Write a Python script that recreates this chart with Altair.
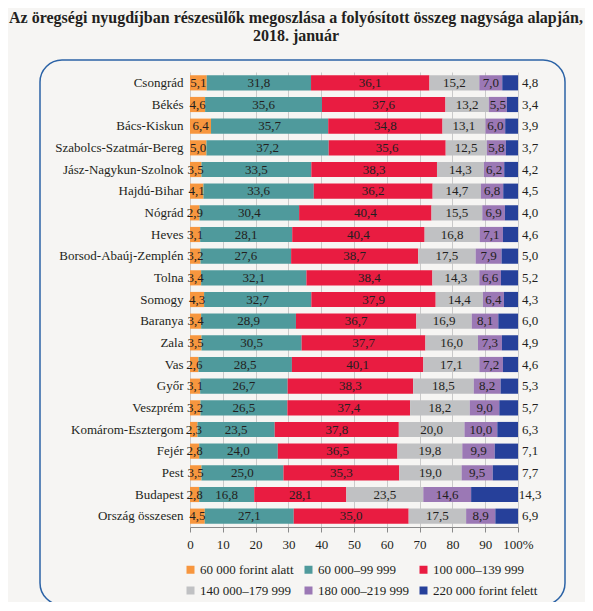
import altair as alt
import pandas as pd

regions = ["Csongrád", "Békés", "Bács-Kiskun", "Szabolcs-Szatmár-Bereg", "Jász-Nagykun-Szolnok",
           "Hajdú-Bihar", "Nógrád", "Heves", "Borsod-Abaúj-Zemplén", "Tolna", "Somogy", "Baranya",
           "Zala", "Vas", "Győr", "Veszprém", "Komárom-Esztergom", "Fejér", "Pest", "Budapest",
           "Ország összesen"]

categories = ["60 000 forint alatt", "60 000–99 999", "100 000–139 999",
              "140 000–179 999", "180 000–219 999", "220 000 forint felett"]
colors = ["#f7963e", "#4f9a9c", "#e91c41", "#c0c1c3", "#9b78b5", "#26409a"]

c1 = [5.1, 4.6, 6.4, 5.0, 3.5, 4.1, 2.9, 3.1, 3.2, 3.4, 4.3, 3.4, 3.5, 2.6, 3.1, 3.2, 2.3, 2.8, 3.5, 2.8, 4.5]
c2 = [31.8, 35.6, 35.7, 37.2, 33.5, 33.6, 30.4, 28.1, 27.6, 32.1, 32.7, 28.9, 30.5, 28.5, 26.7, 26.5, 23.5, 24.0, 25.0, 16.8, 27.1]
c3 = [36.1, 37.6, 34.8, 35.6, 38.3, 36.2, 40.4, 40.4, 38.7, 38.4, 37.9, 36.7, 37.7, 40.1, 38.3, 37.4, 37.8, 36.5, 35.3, 28.1, 35.0]
c4 = [15.2, 13.2, 13.1, 12.5, 14.3, 14.7, 15.5, 16.8, 17.5, 14.3, 14.4, 16.9, 16.0, 17.1, 18.5, 18.2, 20.0, 19.8, 19.0, 23.5, 17.5]
c5 = [7.0, 5.5, 6.0, 5.8, 6.2, 6.8, 6.9, 7.1, 7.9, 6.6, 6.4, 8.1, 7.3, 7.2, 8.2, 9.0, 10.0, 9.9, 9.5, 14.6, 8.9]
c6 = [4.8, 3.4, 3.9, 3.7, 4.2, 4.5, 4.0, 4.6, 5.0, 5.2, 4.3, 6.0, 4.9, 4.6, 5.3, 5.7, 6.3, 7.1, 7.7, 14.3, 6.9]
tick_values = [0, 10, 20, 30, 40, 50, 60, 70, 80, 90, 100]

series = [c1, c2, c3, c4, c5, c6]
rows = []
for ci, (cat, vals) in enumerate(zip(categories, series)):
    for r, v in zip(regions, vals):
        rows.append({"region": r, "cat": cat, "order": ci, "value": v,
                     "label": f"{v:.1f}".replace(".", ",")})
df = pd.DataFrame(rows)

FONT = "Liberation Serif, DejaVu Serif, serif"
TXT = "#231f20"
W, H = 328, 455

base = alt.Chart(df).transform_stack(
    stack="value", groupby=["region"], sort=[alt.SortField("order", order="ascending")],
    as_=["x0", "x1"], offset="normalize"
).transform_calculate(
    x0p="datum.x0 * 100", x1p="datum.x1 * 100", mid="(datum.x0 + datum.x1) * 50"
)

yscale = alt.Scale(paddingInner=0.3, paddingOuter=0.15)
yaxis = alt.Axis(domain=False, ticks=False, grid=False, labelFont=FONT,
                 labelFontSize=13, labelColor=TXT, labelPadding=7)
xscale = alt.Scale(domain=[0, 100], nice=False)
xaxis = alt.Axis(values=tick_values,
                 labelExpr="datum.value >= 100 ? '100%' : datum.label",
                 labelOverlap=False, labelFlush=False,
                 grid=True, gridColor="#cacaca", gridWidth=1,
                 domainColor="#8a8a8a", tickColor="#8a8a8a", tickSize=5,
                 labelFont=FONT, labelFontSize=13, labelColor=TXT, labelPadding=6)


def yenc():
    return alt.Y("region:N", sort=regions, title=None, scale=yscale, axis=yaxis)


bars = base.mark_bar().encode(
    x=alt.X("x0p:Q", scale=xscale, title=None, axis=xaxis),
    x2="x1p:Q",
    y=yenc(),
    color=alt.Color("cat:N", scale=alt.Scale(domain=categories, range=colors), title=None,
                    legend=alt.Legend(orient="none", legendX=-6, legendY=H + 36, columns=3,
                                      direction="horizontal", symbolType="square", symbolSize=64,
                                      symbolStrokeWidth=0, labelFont=FONT, labelFontSize=13,
                                      labelColor=TXT, gridAlign="each", columnPadding=8,
                                      rowPadding=7, labelOffset=3, labelLimit=200)),
    order=alt.Order("order:Q"),
)

inner = base.transform_filter(alt.datum.order < 5).mark_text(
    font=FONT, fontSize=13, color=TXT, align="center", baseline="middle"
).encode(x=alt.X("mid:Q", scale=xscale, title=None, axis=xaxis), y=yenc(), text="label:N")

outer = base.transform_filter(alt.datum.order == 5).mark_text(
    font=FONT, fontSize=13, color=TXT, align="center", baseline="middle", dx=12
).encode(x=alt.X("x1p:Q", scale=xscale, title=None, axis=xaxis), y=yenc(), text="label:N")

frame = alt.Chart(alt.Data(values=[{"a": 1}])).mark_rect(
    filled=False, stroke="#2c63a6", strokeWidth=1.5, cornerRadius=22
).encode(x=alt.value(-150), x2=alt.value(375), y=alt.value(-12), y2=alt.value(533))

chart = alt.layer(frame, bars, inner, outer).properties(
    width=W, height=H,
    title=alt.TitleParams(
        ["Az öregségi nyugdíjban részesülők megoszlása a folyósított összeg nagysága alapján,",
         "2018. január"],
        font=FONT, fontSize=16, fontWeight="bold", color=TXT, anchor="middle",
        dx=-58, lineHeight=18, offset=15),
    autosize=alt.AutoSizeParams(type="none"),
    padding={"left": 182, "top": 64, "right": 67, "bottom": 75},
    background="#f6f5f3",
).configure_view(stroke=None)

chart.save("out.html", embed_options={"renderer": "svg", "actions": False})
